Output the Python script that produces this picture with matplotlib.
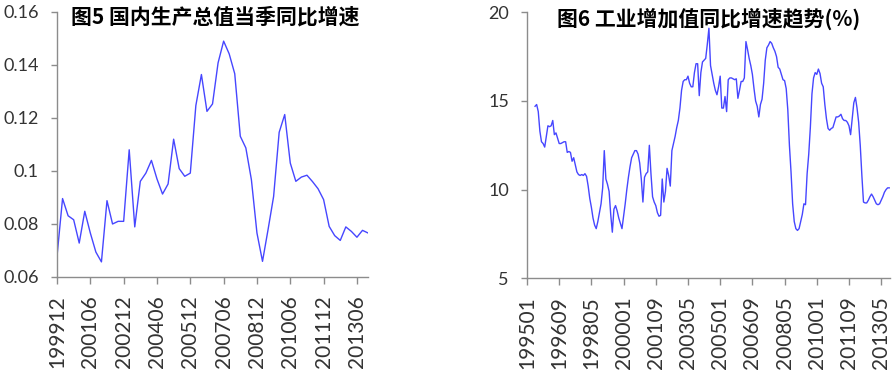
import matplotlib.pyplot as plt
import numpy as np

# quarterly GDP yoy growth, 1999Q4 .. 2013Q4
gdp_growth = [0.0678, 0.0896, 0.0831, 0.0816, 0.0728, 0.0848, 0.0766, 0.0694, 0.0657, 0.0888,
              0.0800, 0.0810, 0.0810, 0.1080, 0.0789, 0.0961, 0.0992, 0.1040, 0.0970, 0.0913,
              0.0951, 0.1120, 0.1009, 0.0980, 0.0992, 0.1247, 0.1364, 0.1225, 0.1253, 0.1408,
              0.1490, 0.1442, 0.1367, 0.1131, 0.1087, 0.0967, 0.0766, 0.0659, 0.0779, 0.0904,
              0.1146, 0.1213, 0.1030, 0.0961, 0.0977, 0.0984, 0.0960, 0.0933, 0.0892, 0.0791,
              0.0756, 0.0738, 0.0789, 0.0772, 0.0750, 0.0776, 0.0766]
gdp_ticks = ['199912', '200106', '200212', '200406', '200512', '200706',
             '200812', '201006', '201112', '201306']

# monthly industrial value added yoy (%), 199501 .. 201310
ind_growth = [None, None, None, None, None,
              14.7, 14.8, 14.4, 13.3, 12.7, 12.6, 12.4, 13.0, 13.6, 13.55,
              13.6, 13.9, 13.1, 13.2, 12.9, 12.6, 12.6, 12.65, 12.7, 12.7,
              12.1, 12.15, 12.1, 11.6, 11.8, 11.4, 11.0, 10.85, 10.8, 10.85,
              10.8, 10.9, 10.75, 10.2, 9.5, 9.0, 8.4, 8.0, 7.8, 8.2,
              8.7, 9.2, 10.1, 12.2, 10.6, 10.3, 9.9, 8.6, 7.6, 8.9,
              9.1, 8.8, 8.4, 8.1, 7.8, 8.5, 9.2, 10.0, 10.7, 11.3,
              11.8, 12.0, 12.2, 12.2, 12.0, 11.5, 10.6, 9.3, 10.7, 10.9,
              11.0, 12.5, 10.9, 9.6, 9.3, 9.1, 8.7, 8.5, 8.55, 10.6,
              9.3, 9.9, 11.2, 10.8, 10.2, 12.2, 12.6, 13.0, 13.5, 13.9,
              14.6, 15.6, 16.1, 16.2, 16.2, 16.4, 16.0, 15.8, 15.8, 16.6,
              17.1, 17.1, 15.3, 16.6, 17.2, 17.3, 17.4, 18.2, 19.1, 17.0,
              16.5, 16.0, 15.6, 15.35, 15.8, 16.4, 14.6, 14.6, 15.25, 14.4,
              16.2, 16.3, 16.3, 16.25, 16.2, 16.25, 15.15, 15.6, 16.1, 16.1,
              16.3, 18.35, 17.9, 17.4, 17.0, 16.5, 15.7, 15.0, 14.7, 14.1,
              14.8, 15.1, 16.0, 17.3, 18.0, 18.15, 18.35, 18.25, 18.0, 17.8,
              17.5, 16.9, 16.8, 16.5, 16.2, 16.15, 15.7, 14.5, 12.5, 11.0,
              9.2, 8.2, 7.8, 7.7, 7.8, 8.2, 8.6, 9.2, 9.15, 10.9,
              12.0, 13.5, 15.4, 16.3, 16.6, 16.5, 16.8, 16.55, 16.0, 15.8,
              14.8, 14.0, 13.45, 13.35, 13.45, 13.5, 13.8, 14.1, 14.1, 14.15,
              14.25, 14.0, 13.9, 13.9, 13.8, 13.6, 13.1, 14.0, 14.9, 15.2,
              14.6, 13.8, 12.5, 10.8, 9.3, 9.25, 9.25, 9.4, 9.6, 9.75,
              9.6, 9.4, 9.2, 9.15, 9.2, 9.4, 9.6, 9.85, 10.0, 10.1, 10.1]
ind_ticks = ['199501', '199609', '199805', '200001', '200109', '200305',
             '200501', '200609', '200805', '201001', '201109', '201305']

LINE = '#4646ff'
SPINE = '#8c8c8c'
TXT = '#333333'
TICKFONT = 'Lato'
TITLEFONT = ['Noto Sans CJK SC', 'DejaVu Sans']


def style(ax):
    for s in ['top', 'right']:
        ax.spines[s].set_visible(False)
    for s in ['left', 'bottom']:
        ax.spines[s].set_color(SPINE)
        ax.spines[s].set_linewidth(1.0)
    ax.tick_params(axis='y', length=4, width=1, color=SPINE, pad=9,
                   labelsize=13, labelcolor=TXT)
    ax.tick_params(axis='x', length=5, width=1, color=SPINE, pad=8,
                   labelsize=15, labelcolor=TXT, rotation=90)
    for lb in ax.get_xticklabels() + ax.get_yticklabels():
        lb.set_fontfamily(TICKFONT)


fig = plt.figure(figsize=(8.92, 3.72), dpi=100)

# left: GDP
ax1 = fig.add_axes([0.0639, 0.2554, 0.3487, 0.7124])
x1 = np.arange(len(gdp_growth))
ax1.plot(x1, gdp_growth, color=LINE, lw=1.0)
ax1.set_xlim(0, len(gdp_growth) - 1)
ax1.set_ylim(0.06, 0.16)
ax1.set_yticks([0.06, 0.08, 0.10, 0.12, 0.14, 0.16])
ax1.set_yticklabels(['0.06', '0.08', '0.1', '0.12', '0.14', '0.16'])
ax1.set_xticks(np.arange(0, len(gdp_growth), 6))
ax1.set_xticklabels(gdp_ticks)
style(ax1)
fig.text(0.2415, 0.955, '图5 国内生产总值当季同比增速', ha='center', va='center',
         fontsize=15, fontweight='bold', family=TITLEFONT, color='black')

# right: industrial value added
ax2 = fig.add_axes([0.5908, 0.2519, 0.4070, 0.7150])
x2 = np.arange(len(ind_growth))
y2 = np.array([np.nan if v is None else v for v in ind_growth], dtype=float)
ax2.plot(x2, y2, color=LINE, lw=1.0)
ax2.set_xlim(0, len(ind_growth) - 0.5)
ax2.set_ylim(5, 20)
ax2.set_yticks([5, 10, 15, 20])
ax2.set_yticklabels(['5', '10', '15', '20'])
ax2.set_xticks(np.arange(0, len(ind_growth), 20))
ax2.set_xticklabels(ind_ticks)
style(ax2)
fig.text(0.7945, 0.948, '图6 工业增加值同比增速趋势(%)', ha='center', va='center',
         fontsize=15, fontweight='bold', family=TITLEFONT, color='black')

fig.savefig('out.png', dpi=100)
